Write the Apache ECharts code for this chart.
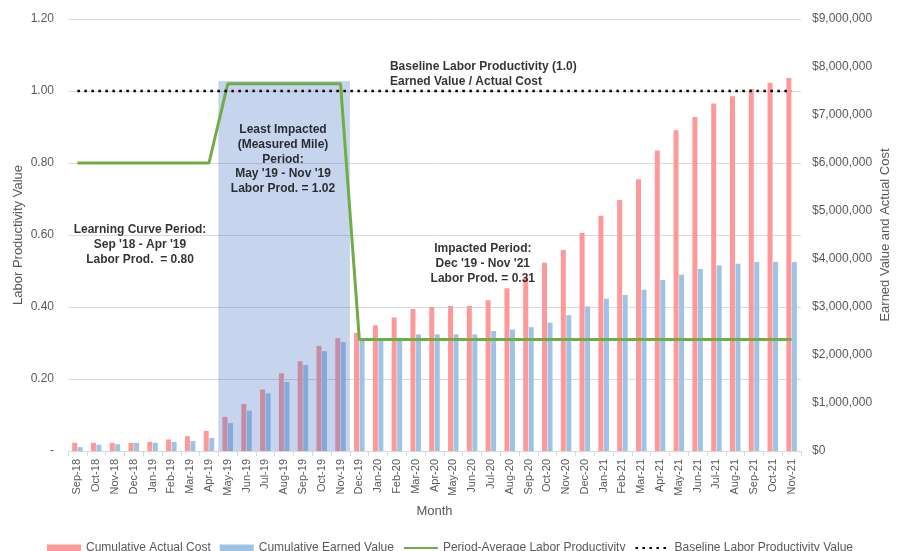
<!DOCTYPE html>
<html>
<head>
<meta charset="utf-8">
<script src="https://cdn.jsdelivr.net/npm/echarts@6/dist/echarts.min.js"></script>
<style>
html,body{margin:0;padding:0;background:#fff;}
#chart{width:903px;height:551px;}
</style>
</head>
<body>
<div id="chart"></div>
<script>
// ---- data ----
var categories = ['Sep-18','Oct-18','Nov-18','Dec-18','Jan-19','Feb-19','Mar-19','Apr-19','May-19','Jun-19','Jul-19','Aug-19','Sep-19','Oct-19','Nov-19','Dec-19','Jan-20','Feb-20','Mar-20','Apr-20','May-20','Jun-20','Jul-20','Aug-20','Sep-20','Oct-20','Nov-20','Dec-20','Jan-21','Feb-21','Mar-21','Apr-21','May-21','Jun-21','Jul-21','Aug-21','Sep-21','Oct-21','Nov-21'];

var actualCost = [170000,170000,170000,170000,190000,240000,310000,420000,710000,980000,1280000,1620000,1870000,2190000,2350000,2460000,2620000,2780000,2960000,3000000,3020000,3020000,3140000,3390000,3620000,3920000,4190000,4540000,4900000,5230000,5660000,6260000,6680000,6960000,7240000,7390000,7540000,7670000,7770000];

var earnedValue = [80000,130000,140000,170000,170000,190000,210000,270000,580000,840000,1200000,1440000,1790000,2080000,2270000,2320000,2350000,2360000,2430000,2430000,2430000,2430000,2500000,2530000,2580000,2670000,2830000,3010000,3170000,3250000,3360000,3560000,3670000,3790000,3870000,3900000,3940000,3940000,3940000];

var periodAvg = [0.80,0.80,0.80,0.80,0.80,0.80,0.80,0.80,1.02,1.02,1.02,1.02,1.02,1.02,1.02,0.31,0.31,0.31,0.31,0.31,0.31,0.31,0.31,0.31,0.31,0.31,0.31,0.31,0.31,0.31,0.31,0.31,0.31,0.31,0.31,0.31,0.31,0.31,0.31];

var baseline = [1,1,1,1,1,1,1,1,1,1,1,1,1,1,1,1,1,1,1,1,1,1,1,1,1,1,1,1,1,1,1,1,1,1,1,1,1,1,1];

var leftTicks = {min: 0, max: 1.2, interval: 0.2};
var rightTicks = {min: 0, max: 9000000, interval: 1000000};

var highlightStart = 'May-19';
var highlightEnd = 'Nov-19';
var highlightTop = 1.028;

var annotations = [
  {text: 'Learning Curve Period:\nSep \'18 - Apr \'19\nLabor Prod.  = 0.80', x: 3.83, y: 0.573, align: 'center'},
  {text: 'Least Impacted\n(Measured Mile)\nPeriod:\nMay \'19 - Nov \'19\nLabor Prod. = 1.02', x: 11.44, y: 0.81, align: 'center'},
  {text: 'Impacted Period:\nDec \'19 - Nov \'21\nLabor Prod. = 0.31', x: 22.07, y: 0.52, align: 'center'},
  {text: 'Baseline Labor Productivity (1.0)\nEarned Value / Actual Cost', x: 17.13, y: 1.046, align: 'left'}
];

// ---- chart ----
var FONT = "'Liberation Sans', Arial, sans-serif";
var GREY = '#595959';
var chart = echarts.init(document.getElementById('chart'));

var hs = categories.indexOf(highlightStart);
var he = categories.indexOf(highlightEnd) + 1;

var option = {
  animation: false,
  textStyle: {fontFamily: FONT},
  grid: {left: 68, right: 102, top: 19, bottom: 100, containLabel: false, outerBoundsMode: 'none'},
  legend: {
    left: 42, top: 537,
    itemWidth: 34, itemHeight: 7, itemGap: 9,
    textStyle: {color: GREY, fontSize: 12, fontFamily: FONT},
    data: [
      {name: 'Cumulative Actual Cost', icon: 'rect'},
      {name: 'Cumulative Earned Value', icon: 'rect'},
      {name: 'Period-Average Labor Productivity', itemStyle: {opacity: 0}},
      {name: 'Baseline Labor Productivity Value', itemStyle: {opacity: 0}}
    ]
  },
  xAxis: [{
    type: 'category',
    data: categories,
    boundaryGap: true,
    axisLine: {lineStyle: {color: '#d9d9d9'}},
    axisTick: {show: true, length: 5, lineStyle: {color: '#d9d9d9'}},
    axisLabel: {rotate: 90, interval: 0, fontSize: 11, color: GREY, fontFamily: FONT, margin: 8},
    name: 'Month', nameLocation: 'middle', nameGap: 54, nameMoveOverlap: false,
    nameTextStyle: {fontSize: 13, color: GREY, fontFamily: FONT}
  }, {
    type: 'value', min: 0, max: categories.length, show: false
  }],
  yAxis: [{
    type: 'value',
    min: leftTicks.min, max: leftTicks.max, interval: leftTicks.interval,
    axisLine: {show: false}, axisTick: {show: false},
    splitLine: {lineStyle: {color: '#d9d9d9'}},
    axisLabel: {
      color: GREY, fontSize: 12, fontFamily: FONT, margin: 14,
      formatter: function (v) { return v === 0 ? '-' : v.toFixed(2); }
    },
    name: 'Labor Productivity Value', nameLocation: 'middle', nameGap: 43, nameRotate: 90, nameMoveOverlap: false,
    nameTextStyle: {fontSize: 13, color: GREY, fontFamily: FONT}
  }, {
    type: 'value', position: 'right',
    min: rightTicks.min, max: rightTicks.max, interval: rightTicks.interval,
    axisLine: {show: false}, axisTick: {show: false},
    splitLine: {show: false},
    axisLabel: {
      color: GREY, fontSize: 12, fontFamily: FONT, margin: 11,
      formatter: function (v) { return '$' + v.toString().replace(/\B(?=(\d{3})+(?!\d))/g, ','); }
    },
    name: 'Earned Value and Actual Cost', nameLocation: 'middle', nameGap: 78, nameRotate: 90, nameMoveOverlap: false,
    nameTextStyle: {fontSize: 13, color: GREY, fontFamily: FONT}
  }],
  series: [{
    name: 'Cumulative Actual Cost', type: 'bar', yAxisIndex: 1,
    data: actualCost, barWidth: 5, barGap: '10%',
    itemStyle: {color: '#FF9999'}, z: 2
  }, {
    name: 'Cumulative Earned Value', type: 'bar', yAxisIndex: 1,
    data: earnedValue, barWidth: 5, barGap: '10%',
    itemStyle: {color: '#9DC3E6'}, z: 2
  }, {
    name: 'highlight', type: 'custom', xAxisIndex: 1, yAxisIndex: 0,
    silent: true, z: 3,
    encode: {x: [0, 1], y: 2},
    data: [[hs, he, highlightTop]],
    renderItem: function (params, api) {
      var p1 = api.coord([api.value(0), api.value(2)]);
      var p2 = api.coord([api.value(1), 0]);
      return {
        type: 'rect',
        shape: {x: p1[0], y: p1[1], width: p2[0] - p1[0], height: p2[1] - p1[1]},
        style: {fill: 'rgba(68,114,196,0.3)'}
      };
    }
  }, {
    name: 'Period-Average Labor Productivity', type: 'line', yAxisIndex: 0,
    data: periodAvg, symbol: 'none', z: 4,
    itemStyle: {color: '#70AD47'},
    lineStyle: {color: '#70AD47', width: 3}
  }, {
    name: 'Baseline Labor Productivity Value', type: 'line', yAxisIndex: 0,
    data: baseline, symbol: 'none', z: 4,
    itemStyle: {color: '#000'},
    lineStyle: {color: '#000', width: 2.5, type: [2.5, 4.5]}
  }, {
    name: 'notes', type: 'scatter', xAxisIndex: 1, yAxisIndex: 0,
    silent: true, z: 5, symbolSize: 1,
    itemStyle: {color: 'rgba(0,0,0,0)'},
    data: annotations.map(function (a) {
      return {
        value: [a.x, a.y],
        label: {
          show: true, position: 'inside', formatter: a.text,
          align: a.align, verticalAlign: 'middle',
          color: '#000', fontWeight: 'bold', fontSize: 12, lineHeight: 14.7,
          fontFamily: FONT
        }
      };
    })
  }]
};
chart.setOption(option);
</script>
</body>
</html>
